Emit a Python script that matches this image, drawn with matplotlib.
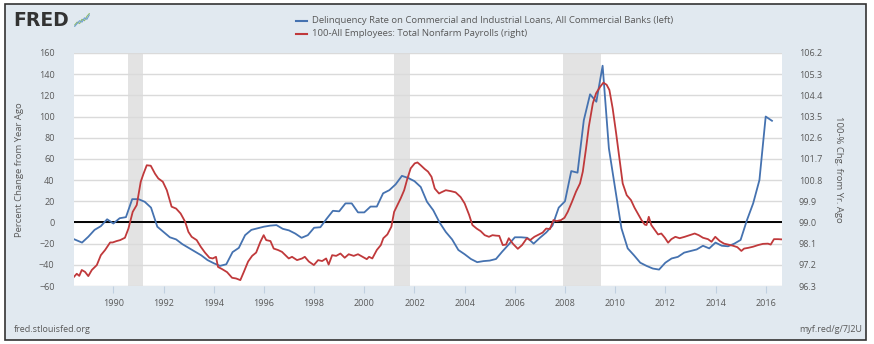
import numpy as np
import matplotlib
matplotlib.use("Agg")
import matplotlib.pyplot as plt
from matplotlib.lines import Line2D
from matplotlib.patches import Rectangle

W, H = 874, 344

# quarterly delinquency rate, percent change from year ago (left axis)
blue_dates = np.arange(1988.25, 2016.26, 0.25)
blue_vals = [
    -14, -16.5, -19, -13.5, -7, -3.5, 3, -1, 4, 5, 22, 22, 19.5, 14, -4, -9,
    -14, -16, -20.5, -24, -27.5, -31, -35.5,
    -38.5, -41, -39.5, -28, -24, -12, -7, -5.5, -4, -3, -2.5, -6, -7.5, -10.5,
    -14.5, -12, -5, -4.5, 3.5, 11, 10.5, 18, 18, 9.5,
    9.5, 15, 15, 27.5, 30.5, 36, 44, 42, 39, 33.5, 19.5, 11.5, 0, -9, -16, -26,
    -30, -34.5, -37.5, -36.5, -36, -34.5,
    -27.5, -21, -14, -14, -14.5, -20, -14.5, -9.5, -3, 14, 20, 48.5, 47, 96.5,
    121, 114, 148, 70, 32, -5.5, -24.5, -31, -38,
    -41, -43.5, -44.5, -38, -34, -32.5, -28.5, -27, -25.5, -22, -24.5, -19,
    -22, -22.5, -20, -16.5, 2, 18, 40, 100, 96,
]

# 100 - payroll % change from year ago (right axis)
red_dates = [
    1988.43, 1988.54, 1988.64, 1988.74, 1988.87, 1989.00, 1989.14, 1989.34, 1989.50, 1989.67,
    1989.87, 1989.97, 1990.13, 1990.27, 1990.46, 1990.60, 1990.77, 1990.93, 1991.09, 1991.20,
    1991.33, 1991.49, 1991.66, 1991.79, 1991.97, 1992.13, 1992.32, 1992.50, 1992.68, 1992.86,
    1992.99, 1993.12, 1993.32, 1993.48, 1993.65, 1993.83, 1993.96, 1994.09, 1994.17, 1994.33,
    1994.53, 1994.73, 1994.89, 1995.06, 1995.20, 1995.37, 1995.53, 1995.69, 1995.86, 1995.99,
    1996.09, 1996.26, 1996.39, 1996.56, 1996.72, 1996.99, 1997.12, 1997.32, 1997.52, 1997.63,
    1997.79, 1997.99, 1998.16, 1998.32, 1998.48, 1998.58, 1998.72, 1998.88, 1999.05, 1999.22,
    1999.38, 1999.58, 1999.75, 1999.93, 2000.10, 2000.19, 2000.32, 2000.50, 2000.66, 2000.76,
    2000.92, 2001.08, 2001.19, 2001.32, 2001.45, 2001.59, 2001.72, 2001.85, 2002.01, 2002.12,
    2002.25, 2002.41, 2002.54, 2002.68, 2002.81, 2002.98, 2003.07, 2003.25, 2003.45, 2003.64,
    2003.84, 2004.00, 2004.18, 2004.31, 2004.48, 2004.64, 2004.80, 2004.97, 2005.11, 2005.25,
    2005.38, 2005.52, 2005.65, 2005.76, 2005.92, 2006.12, 2006.29, 2006.48, 2006.61, 2006.78,
    2006.91, 2007.11, 2007.25, 2007.40, 2007.54, 2007.67, 2007.84, 2007.98, 2008.11, 2008.28,
    2008.44, 2008.60, 2008.71, 2008.84, 2008.95, 2009.11, 2009.24, 2009.40, 2009.53, 2009.66,
    2009.77, 2009.90, 2010.04, 2010.17, 2010.30, 2010.46, 2010.63, 2010.77, 2010.90, 2011.05,
    2011.18, 2011.25, 2011.34, 2011.44, 2011.58, 2011.71, 2011.84, 2011.98, 2012.11, 2012.24,
    2012.40, 2012.57, 2012.77, 2012.97, 2013.17, 2013.33, 2013.50, 2013.70, 2013.84, 2013.99,
    2014.17, 2014.34, 2014.50, 2014.70, 2014.87, 2015.03, 2015.14, 2015.30, 2015.50, 2015.70,
    2015.89, 2016.09, 2016.20, 2016.33, 2016.49, 2016.65,
]
red_vals = [
    96.69, 96.82, 96.73, 96.98, 96.90, 96.72, 96.98, 97.19, 97.61, 97.83,
    98.15, 98.15, 98.21, 98.25, 98.35, 98.74, 99.45, 99.74, 100.73, 101.07,
    101.43, 101.41, 101.07, 100.87, 100.73, 100.37, 99.67, 99.59, 99.38, 99.03,
    98.60, 98.39, 98.25, 97.97, 97.72, 97.50, 97.47, 97.54, 97.11, 97.02,
    96.89, 96.65, 96.62, 96.55, 96.90, 97.34, 97.58, 97.72, 98.18, 98.46,
    98.25, 98.21, 97.89, 97.83, 97.75, 97.47, 97.54, 97.40, 97.47, 97.54,
    97.34, 97.19, 97.40, 97.36, 97.47, 97.21, 97.61, 97.58, 97.68, 97.50,
    97.65, 97.58, 97.65, 97.54, 97.44, 97.54, 97.47, 97.83, 98.04, 98.33,
    98.49, 98.82, 99.45, 99.74, 100.02, 100.37, 100.87, 101.30, 101.51, 101.55,
    101.43, 101.27, 101.16, 100.94, 100.44, 100.23, 100.28, 100.37, 100.33, 100.28,
    100.08, 99.81, 99.32, 98.89, 98.74, 98.63, 98.46, 98.39, 98.46, 98.44,
    98.43, 98.04, 98.06, 98.33, 98.10, 97.88, 98.04, 98.33, 98.25, 98.39,
    98.46, 98.57, 98.74, 98.72, 99.10, 99.06, 99.10, 99.20, 99.45, 99.88,
    100.31, 100.66, 101.16, 102.15, 103.07, 104.06, 104.49, 104.76, 104.94, 104.85,
    104.63, 103.85, 102.78, 101.72, 100.66, 100.16, 99.95, 99.63, 99.38, 99.10,
    98.91, 98.89, 99.24, 98.89, 98.68, 98.49, 98.53, 98.35, 98.14, 98.29,
    98.39, 98.33, 98.39, 98.46, 98.53, 98.46, 98.35, 98.29, 98.18, 98.39,
    98.21, 98.10, 98.06, 98.01, 97.95, 97.79, 97.89, 97.92, 97.97, 98.04,
    98.09, 98.10, 98.06, 98.29, 98.29, 98.28,
]

recessions = [(1990.58, 1991.17), (2001.17, 2001.83), (2007.92, 2009.42)]
left_ticks = [-60, -40, -20, 0, 20, 40, 60, 80, 100, 120, 140, 160]
right_ticks = [96.3, 97.2, 98.1, 99.0, 99.9, 100.8, 101.7, 102.6, 103.5, 104.4, 105.3, 106.2]
year_ticks = list(range(1990, 2017, 2))

BLUE = "#4572b0"
RED = "#c0393b"
BG = "#e1e9f0"
TXT = "#595959"
FONT = "Open Sans"


def fx(px):
    return px / W


def fy(py):
    return 1 - py / H


fig = plt.figure(figsize=(W / 100, H / 100), dpi=100, facecolor="white")

# outer panel
fig.add_artist(Rectangle((fx(5), fy(340)), fx(861), 336 / H, transform=fig.transFigure,
                         facecolor=BG, edgecolor="#333333", linewidth=1.2, zorder=0))

ax = fig.add_axes([fx(74), fy(286), fx(782 - 74), (286 - 53) / H])
ax.set_facecolor("white")
ax.set_xlim(1988.43, 2016.65)
ax.set_ylim(-60, 160)

for a, b in recessions:
    ax.axvspan(a, b, color="#e3e3e3", lw=0, zorder=1)

ax.set_yticks(left_ticks)
ax.grid(axis="y", color="#dadada", linewidth=1.0, zorder=0)
ax.axhline(0, color="black", linewidth=1.4, zorder=3)

ax.plot(blue_dates, blue_vals, color=BLUE, linewidth=1.3, zorder=5)

ax2 = ax.twinx()
ax2.set_ylim(96.3, 106.2)
ax2.set_yticks(right_ticks)
ax2.set_yticklabels([f"{t:.1f}" for t in right_ticks])
ax2.plot(red_dates, red_vals, color=RED, linewidth=1.3, zorder=4)

ax.set_xticks(year_ticks)
ax.set_xticklabels([str(y) for y in year_ticks])
for a in (ax, ax2):
    for s in a.spines.values():
        s.set_visible(False)
ax.tick_params(axis="x", length=5, color="#c0d0e0", labelsize=6.5, labelcolor=TXT, pad=4)
ax.tick_params(axis="y", length=0, labelsize=6.5, labelcolor=TXT, pad=14)
ax2.tick_params(axis="y", length=0, labelsize=6.5, labelcolor=TXT, pad=12)
for lab in ax.get_xticklabels() + ax.get_yticklabels() + ax2.get_yticklabels():
    lab.set_fontfamily(FONT)

ax.set_ylabel("Percent Change from Year Ago", fontsize=6.8, color=TXT, family=FONT, labelpad=11)
ax2.set_ylabel("100-% Chg. from Yr. Ago", fontsize=6.8, color=TXT, family=FONT,
               rotation=270, labelpad=15)

# header: logo and legend
fig.text(fx(13), fy(20), "FRED", fontsize=13.5, fontweight="bold", color="#333333",
         family="DejaVu Sans", va="center", ha="left")
icon_x = [0, 1, 2, 3, 4, 5, 6]
icon_g = [1, 2, 1.5, 3, 2.5, 4, 5]
icon_b = [0.5, 1.5, 2.5, 2, 3.5, 3, 4.5]
ic = fig.add_axes([fx(74), fy(27), fx(16), 14 / H])
ic.plot(icon_x, icon_g, color="#8dbb6a", lw=0.8)
ic.plot(icon_x, icon_b, color="#6f9fd0", lw=0.8)
ic.axis("off")

legend_items = [
    (BLUE, "Delinquency Rate on Commercial and Industrial Loans, All Commercial Banks (left)", 20.5),
    (RED, "100-All Employees: Total Nonfarm Payrolls (right)", 33.5),
]
for col, label, py in legend_items:
    fig.add_artist(Line2D([fx(296), fx(307)], [fy(py), fy(py)], color=col, lw=1.5,
                          transform=fig.transFigure))
    fig.text(fx(312), fy(py), label, fontsize=6.8, color=TXT, family=FONT, va="center")

# footer
fig.text(fx(14), fy(330), "fred.stlouisfed.org", fontsize=6.5, color=TXT, family=FONT, va="center")
fig.text(fx(862), fy(330), "myf.red/g/7J2U", fontsize=6.5, color=TXT, family=FONT,
         va="center", ha="right")

fig.savefig("out.png", dpi=100, facecolor="white")
